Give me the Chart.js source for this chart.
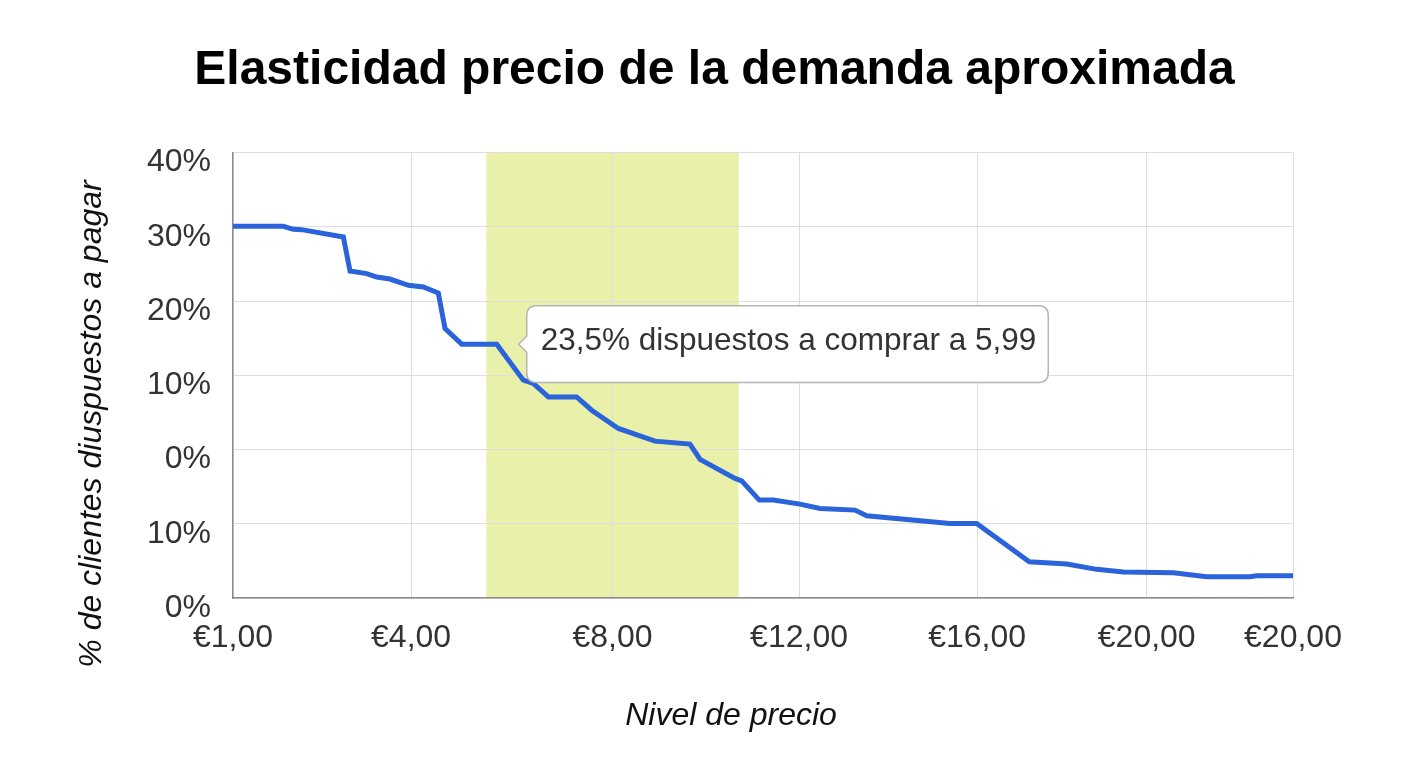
<!DOCTYPE html>
<html>
<head>
<meta charset="utf-8">
<script src="https://cdn.jsdelivr.net/npm/chart.js@4"></script>
<style>
    html, body { margin: 0; padding: 0; background: #fff; }
</style>
</head>
<body>
<canvas id="chart" width="1409" height="764"></canvas>
<script>

const chartTitle = "Elasticidad precio de la demanda aproximada";
const xAxisTitle = "Nivel de precio";
const yAxisTitle = "% de clientes diuspuestos a pagar";
const tooltipText = "23,5% dispuestos a comprar a 5,99";

// the price axis is not evenly spaced, so x is a position along it (0 = €1,00, 100 = right end)
const xTickPositions = [0, 16.8, 35.8, 53.4, 70.2, 86.2, 100];
const xTickLabels = ["€1,00", "€4,00", "€8,00", "€12,00", "€16,00", "€20,00", "€20,00"];
const yTickLabels = ["0%", "10%", "0%", "10%", "20%", "30%", "40%"];

const pricePos = [
    0, 4.75, 5.69, 6.48, 10.41, 11.04, 12.61, 13.56, 14.81, 16.54,
    17.95, 19.37, 20.0, 21.58, 24.88, 27.39, 28.33, 29.75, 32.42, 33.84,
    36.35, 39.81, 43.11, 44.06, 47.36, 47.99, 49.65, 50.97, 53.49, 55.38,
    58.68, 59.78, 67.64, 70.16, 75.12, 78.65, 81.48, 83.99, 88.71, 91.86,
    95.94, 96.58, 100
];
const demand = [
    50.07, 50.07, 49.66, 49.62, 48.63, 44.05, 43.70, 43.24, 42.97, 42.13,
    41.90, 41.09, 36.30, 34.19, 34.19, 29.34, 28.90, 27.09, 27.09, 25.30,
    22.84, 21.13, 20.73, 18.67, 16.11, 15.79, 13.19, 13.19, 12.65, 12.07,
    11.84, 11.08, 10.05, 10.05, 4.89, 4.58, 3.86, 3.50, 3.41, 2.87,
    2.87, 3.00, 3.00
];

const highlightRange = [23.9, 47.7];
const tooltipIndex = 14;

const family = "'Liberation Sans', Arial, Helvetica, sans-serif";

const bandPlugin = {
    id: "band",
    beforeDraw(chart) {
        const { ctx, chartArea, scales } = chart;
        const x0 = scales.x.getPixelForValue(highlightRange[0]);
        const x1 = scales.x.getPixelForValue(highlightRange[1]);
        ctx.save();
        ctx.fillStyle = "#e9f0a9";
        ctx.fillRect(x0, chartArea.top, x1 - x0, chartArea.bottom - chartArea.top);
        ctx.restore();
    }
};

// axis titles sit off-centre in the original, so draw them by hand
const axisTitles = {
    id: "axisTitles",
    afterDraw(chart) {
        const ctx = chart.ctx;
        ctx.save();
        ctx.fillStyle = "#111";
        ctx.font = "italic 32px " + family;
        ctx.textAlign = "center";
        ctx.textBaseline = "middle";
        ctx.fillText(xAxisTitle, 731, 716);
        ctx.translate(92, 424);
        ctx.rotate(-Math.PI / 2);
        ctx.fillText(yAxisTitle, 0, 0);
        ctx.restore();
    }
};

const grid = { color: "#dedede", lineWidth: 1, drawTicks: false };
const border = { color: "#8c8c8c", width: 1.5 };

const chart = new Chart(document.getElementById("chart"), {

    type: "line",

    data: {
        datasets: [{
            data: pricePos.map((x, i) => ({ x, y: demand[i] })),
            borderColor: "#2b63db",
            borderWidth: 5,
            pointRadius: 0,
            pointHoverRadius: 0,
            tension: 0,
            fill: false
        }]
    },

    options: {
        responsive: false,
        animation: false,
        events: [],
        layout: { padding: { left: 136, right: 116, top: 0, bottom: 0 } },
        plugins: {
            legend: { display: false },
            title: {
                display: true,
                text: chartTitle,
                color: "#000",
                font: { family, size: 48, weight: "bold" },
                padding: { top: 42, bottom: 53 }
            },
            tooltip: {
                xAlign: "left",
                yAlign: "center",
                backgroundColor: "#fff",
                borderColor: "#b5b5b5",
                borderWidth: 1.5,
                cornerRadius: 10,
                caretSize: 8,
                caretPadding: 22,
                displayColors: false,
                bodyColor: "#333",
                bodyFont: { family, size: 31.5 },
                padding: { top: 17, bottom: 22, left: 14, right: 12 },
                callbacks: {
                    title: () => "",
                    label: () => tooltipText
                }
            }
        },
        scales: {
            x: {
                type: "linear",
                min: 0,
                max: 100,
                afterBuildTicks: scale => { scale.ticks = xTickPositions.map(v => ({ value: v })); },
                afterFit: scale => { scale.height = 166; },
                grid,
                border,
                ticks: {
                    autoSkip: false,
                    maxRotation: 0,
                    padding: 21,
                    color: "#333",
                    font: { family, size: 32 },
                    callback: (v, i) => xTickLabels[i]
                }
            },
            y: {
                min: 0,
                max: 60,
                afterFit: scale => { scale.width = 97; },
                grid,
                border,
                ticks: {
                    stepSize: 10,
                    padding: 22,
                    labelOffset: 10,
                    color: "#333",
                    font: { family, size: 32 },
                    callback: (v, i) => yTickLabels[i]
                }
            }
        }
    },

    plugins: [bandPlugin, axisTitles]

});

chart.tooltip.setActiveElements([{ datasetIndex: 0, index: tooltipIndex }], { x: 0, y: 0 });
chart.update();

</script>
</body>
</html>
